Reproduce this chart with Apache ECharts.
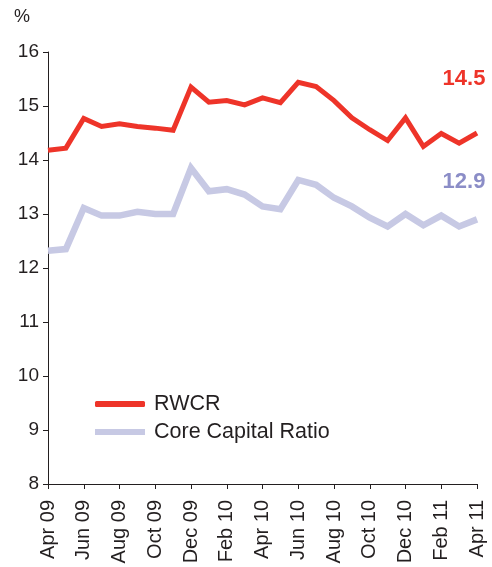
<!DOCTYPE html>
<html>
<head>
<meta charset="utf-8">
<script src="https://cdn.jsdelivr.net/npm/echarts@6/dist/echarts.min.js"></script>
<style>
  html, body { margin: 0; padding: 0; background: #fff; }
  #chart { width: 492px; height: 567px; }
</style>
</head>
<body>
<div id="chart"></div>
<script>
// Monthly observations, April 2009 to April 2011
const months = [
  'Apr 09', 'May 09', 'Jun 09', 'Jul 09', 'Aug 09', 'Sep 09', 'Oct 09', 'Nov 09', 'Dec 09',
  'Jan 10', 'Feb 10', 'Mar 10', 'Apr 10', 'May 10', 'Jun 10', 'Jul 10', 'Aug 10', 'Sep 10',
  'Oct 10', 'Nov 10', 'Dec 10', 'Jan 11', 'Feb 11', 'Mar 11', 'Apr 11'
];

// Risk-weighted capital ratio, %
const rwcr = [
  14.18, 14.22, 14.77, 14.62, 14.67, 14.62, 14.59, 14.55, 15.35,
  15.07, 15.10, 15.02, 15.15, 15.06, 15.44, 15.36, 15.10, 14.78,
  14.56, 14.36, 14.78, 14.25, 14.49, 14.31, 14.5
];

// Core capital ratio, %
const coreCapital = [
  12.32, 12.35, 13.11, 12.97, 12.97, 13.04, 13.00, 13.00, 13.85,
  13.42, 13.46, 13.36, 13.14, 13.09, 13.63, 13.54, 13.30, 13.14,
  12.93, 12.77, 13.00, 12.79, 12.97, 12.77, 12.9
];

const yTicks = { min: 8, max: 16, step: 1 };

const RED = '#ee3429';
const LAVENDER = '#c7c9e4';
const LAVENDER_TEXT = '#8b8dc7';
const INK = '#231f20';
const FONT = '"Liberation Sans", Arial, Helvetica, sans-serif';

// Value label for the latest observation, placed above the line end.
function latestValueMark(values, color, distance) {
  const last = values.length - 1;
  return {
    silent: true,
    symbol: 'circle',
    symbolSize: 1,
    itemStyle: { color: 'rgba(0,0,0,0)' },
    label: {
      show: true,
      position: 'top',
      distance: distance,
      offset: [-13, 0],
      formatter: (p) => Number(p.value).toFixed(1),
      color: color,
      fontFamily: FONT,
      fontWeight: 'bold',
      fontSize: 22
    },
    data: [{ coord: [last, values[last]], value: values[last] }]
  };
}

const chart = echarts.init(document.getElementById('chart'), null, { renderer: 'canvas' });

chart.setOption({
  animation: false,
  backgroundColor: '#ffffff',
  grid: { left: 48, right: 15, top: 52, bottom: 83, containLabel: false },
  graphic: [{
    type: 'text',
    left: 14,
    top: 8,
    style: { text: '%', fill: INK, font: '18px ' + FONT }
  }],
  legend: {
    orient: 'vertical',
    left: 90,
    top: 388,
    itemWidth: 50,
    itemHeight: 6,
    itemGap: 6,
    selectedMode: false,
    textStyle: {
      color: INK,
      fontFamily: FONT,
      fontSize: 21.5,
      lineHeight: 22,
      padding: [0, 0, 0, 4]
    },
    data: [
      { name: 'RWCR', icon: 'roundRect', itemStyle: { color: RED } },
      { name: 'Core Capital Ratio', icon: 'rect', itemStyle: { color: LAVENDER } }
    ]
  },
  xAxis: {
    type: 'category',
    data: months,
    boundaryGap: false,
    axisLine: { lineStyle: { color: INK, width: 1 } },
    axisTick: { show: true, interval: 1, length: 5, inside: false, lineStyle: { color: INK } },
    axisLabel: {
      interval: 1,
      rotate: 90,
      margin: 16,
      color: INK,
      fontFamily: FONT,
      fontSize: 20
    },
    splitLine: { show: false }
  },
  yAxis: {
    type: 'value',
    min: yTicks.min,
    max: yTicks.max,
    interval: yTicks.step,
    axisLine: { show: true, lineStyle: { color: INK, width: 1 } },
    axisTick: { show: true, length: 5, inside: false, lineStyle: { color: INK } },
    axisLabel: { margin: 9, color: INK, fontFamily: FONT, fontSize: 19 },
    splitLine: { show: false }
  },
  series: [
    {
      name: 'RWCR',
      type: 'line',
      data: rwcr,
      showSymbol: false,
      symbol: 'none',
      color: RED,
      lineStyle: { color: RED, width: 5, join: 'miter' },
      markPoint: latestValueMark(rwcr, RED, 43),
      z: 3
    },
    {
      name: 'Core Capital Ratio',
      type: 'line',
      data: coreCapital,
      showSymbol: false,
      symbol: 'none',
      color: LAVENDER,
      lineStyle: { color: LAVENDER, width: 6.5, join: 'miter' },
      markPoint: latestValueMark(coreCapital, LAVENDER_TEXT, 26),
      z: 2
    }
  ]
});
</script>
</body>
</html>
